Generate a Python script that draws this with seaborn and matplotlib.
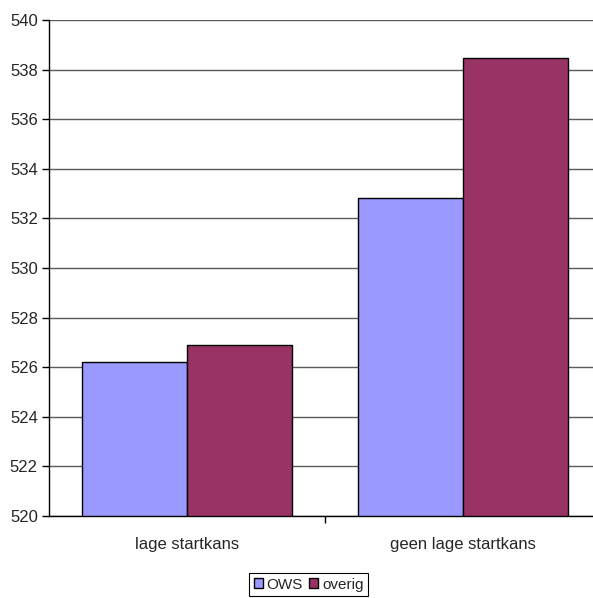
import pandas as pd
import seaborn as sns
import matplotlib.pyplot as plt
from matplotlib.ticker import FixedLocator

# values
categories = ['lage startkans', 'geen lage startkans']
groups = ['OWS', 'overig']
ows = [526.2, 532.83]
overig = [526.88, 538.48]
y_ticks = list(range(520, 541, 2))

df = pd.DataFrame({
    'categorie': categories * 2,
    'groep': [groups[0]] * 2 + [groups[1]] * 2,
    'score': ows + overig,
})

sns.set_theme(style='white')
plt.rcParams['font.family'] = ['Liberation Sans', 'DejaVu Sans']

fig = plt.figure(figsize=(5.93, 5.98), dpi=100)
ax = fig.add_axes([49 / 593, 82 / 598, 552 / 593, 496 / 598])

sns.barplot(data=df, x='categorie', y='score', hue='groep', order=categories,
            hue_order=groups, palette=['#9999ff', '#993366'], width=0.76,
            edgecolor='black', linewidth=1, saturation=1, ax=ax, legend=True)

ax.set_xlim(-0.5, 1.5)
ax.set_ylim(520, 540)
ax.set_yticks(y_ticks)
ax.grid(axis='y', color='#5a5a5a', linewidth=1)
ax.set_axisbelow(True)
ax.set_xlabel('')
ax.set_ylabel('')

for side in ['top', 'right']:
    ax.spines[side].set_visible(False)
for side in ['left', 'bottom']:
    ax.spines[side].set_color('black')
    ax.spines[side].set_linewidth(1)

ax.tick_params(axis='y', left=True, length=5, width=1, color='black',
               labelsize=12, pad=3)
ax.tick_params(axis='x', bottom=False, labelsize=12, pad=9)
ax.xaxis.set_minor_locator(FixedLocator([0.5]))
ax.tick_params(axis='x', which='minor', bottom=True, length=5, width=1,
               color='black')

# legend box sits at the bottom edge, partly cut off like the reference
handles, labels = ax.get_legend_handles_labels()
ax.legend(handles, labels, ncol=2, loc='upper center',
          bbox_to_anchor=(308.5 / 593, 1 - 573 / 598),
          bbox_transform=fig.transFigure, frameon=True, fancybox=False,
          edgecolor='black', framealpha=1, fontsize=11, handlelength=0.6,
          handleheight=0.6, handletextpad=0.25, columnspacing=0.4,
          borderpad=0.3, borderaxespad=0)
ax.get_legend().get_frame().set_linewidth(0.8)

fig.savefig('out.png', dpi=100)
